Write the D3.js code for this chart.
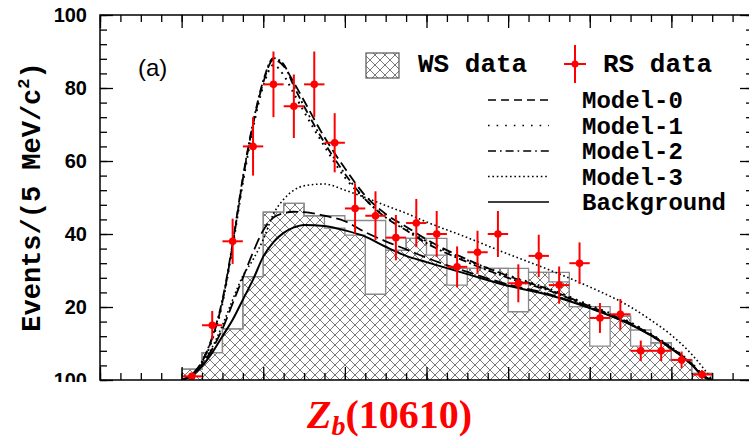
<!DOCTYPE html>
<html>
<head>
  <meta charset="utf-8">
  <title>Zb(10610) fit</title>
  <script src="https://d3js.org/d3.v7.min.js"></script>
  <style>
    body { margin: 0; background: #fff; }
    svg { display: block; }
    .tick-label { font-family: "Liberation Sans", Arial, sans-serif; font-weight: bold; font-size: 20px; }
    .mono { font-family: "Liberation Mono", "Courier New", monospace; font-weight: bold; }
  </style>
</head>
<body>
<svg id="chart" width="749" height="441"></svg>
<script>
// bins: lower edge in MeV above the axis origin, 5 MeV wide
const binLow = [20, 25, 30, 35, 40, 45, 50, 55, 60, 65, 70, 75, 80,
                85, 90, 95, 100, 105, 110, 115, 120, 125, 130, 135, 140, 145];

// RS data (points) and errors
const rsData = [1, 15, 38, 64, 81, 75, 81, 65, 47, 45, 39, 43, 40,
                31, 35, 40, 26.5, 34, 26, 32, 17, 18, 8, 8, 5.5, 1.5];
const rsErr  = [1, 3.9, 6.2, 8, 9, 8.7, 9, 8.1, 6.9, 6.7, 6.2, 6.6, 6.3,
                5.6, 5.9, 6.3, 5.2, 5.8, 5.1, 5.7, 4.1, 4.2, 2.8, 2.8, 2.3, 1.2];

// WS data: hatched histogram and the grey outline drawn over it
const wsHatch   = [3, 7.5, 14, 28.3, 46, 48.4, 45, 41.6, 39.7, 23.5, 35.5, 38.8, 34.2,
                   26, 30.6, 30.6, 18.7, 29.5, 26.9, 20.1, 9.3, 17.5, 9.3, 10.2, 5.5, 1.8];
const wsOutline = [3, 7.5, 14, 28.3, 46, 48.4, 45, 45, 43.7, 43.7, 35.5, 38.8, 38.8,
                   30.6, 30.6, 30.6, 30.6, 29.5, 29.5, 20.1, 20.1, 17.5, 13.7, 10.2, 5.5, 1.8];

// fitted curves, sampled at curveX
const curveX     = [20, 22.5, 25, 27.5, 30, 32.5, 35, 37.5, 40, 42.5, 45, 47.5, 50, 55, 60,
                    65, 70, 75, 80, 90, 100, 110, 120, 130, 135, 140, 145, 148, 150];
const model0     = [0, 1.5, 5, 11.5, 21.5, 37, 55, 70, 81.5, 87.8, 86, 81.5, 76.5, 66.5, 58,
                    50.5, 45.5, 42, 38.5, 33, 28.5, 24.8, 20.2, 15.5, 12.4, 8.8, 4.4, 1, 0];
const model1     = [0, 1.4, 4.8, 11, 21, 36.5, 54, 69, 80.5, 86.3, 83.5, 78.5, 73.5, 64, 55.5,
                    49.5, 44.8, 41.3, 38, 32.8, 28.7, 25, 20.5, 15.8, 12.6, 9, 4.6, 1.2, 0];
const model2     = [0, 1.5, 5.1, 11.8, 22, 37.5, 55.5, 70.5, 82, 88.2, 86.5, 80.5, 75, 65, 56.5,
                    49.5, 44.5, 41, 37.5, 32.3, 28, 24.5, 20, 15.4, 12.3, 8.7, 4.3, 1, 0];
const model3     = [0, 1.3, 4.5, 9, 15, 22, 28.5, 33, 38.5, 45.5, 49.5, 52, 53.2, 53.7, 52,
                    50, 47.8, 45.7, 43.3, 39, 34.5, 30.2, 25.5, 20, 16.4, 12.3, 7, 3, 0];
const dashedLow  = [0, 1.3, 4.2, 8.5, 14, 21, 28, 35, 41, 44.5, 45.7, 46.1, 46, 45, 43.5,
                    40.5, 38, 35.8, 33.5, 29.6, 26.2, 23.5, 19.8, 15.2, 12.2, 8.6, 4.2, 0.8, 0];
const background = [0, 1.2, 3.8, 7.5, 12, 16.5, 22, 27.5, 33.8, 37.8, 40.3, 41.8, 42.5, 42.2, 41,
                    39.3, 36.5, 34, 32.3, 29, 25.8, 23.3, 19.7, 15.2, 12.2, 8.6, 4.2, 0.8, 0];

const legendNames = ["Model-0", "Model-1", "Model-2", "Model-3", "Background"];
const yTicks = [0, 20, 40, 60, 80, 100];
const yTickText = ["100", "20", "40", "60", "80", "100"];

const binWidth = 5;
const svg = d3.select("#chart");

const x = d3.scaleLinear().domain([0, 160]).range([100, 753]);
const y = d3.scaleLinear().domain([0, 100]).range([380, 15]);

const defs = svg.append("defs");
defs.append("clipPath").attr("id", "plot")
  .append("rect").attr("x", 100).attr("y", 15).attr("width", 653).attr("height", 365);
const pat = defs.append("pattern")
  .attr("id", "hatch")
  .attr("patternUnits", "userSpaceOnUse")
  .attr("width", 10).attr("height", 10);
pat.append("path")
  .attr("d", "M0,0L10,10M10,0L0,10")
  .attr("stroke", "#555").attr("stroke-width", 0.8);

const plot = svg.append("g").attr("clip-path", "url(#plot)");

// step helpers
const stepPoints = vals => {
  const pts = binLow.map((b, i) => [b, vals[i]]);
  pts.push([binLow[binLow.length - 1] + binWidth, vals[vals.length - 1]]);
  return pts;
};

const hatchArea = d3.area()
  .x(d => x(d[0])).y0(y(0)).y1(d => y(d[1]))
  .curve(d3.curveStepAfter);

plot.append("path")
  .datum(stepPoints(wsHatch))
  .attr("d", hatchArea)
  .attr("fill", "url(#hatch)");

const stepLine = d3.line()
  .x(d => x(d[0])).y(d => y(d[1]))
  .curve(d3.curveStepAfter);

[wsOutline, wsHatch].forEach(vals => {
  const pts = stepPoints(vals);
  pts.unshift([binLow[0], 0]);
  pts.push([binLow[binLow.length - 1] + binWidth, 0]);
  plot.append("path")
    .datum(pts)
    .attr("d", stepLine)
    .attr("fill", "none")
    .attr("stroke", "#8a8a8a")
    .attr("stroke-width", 1.3);
});

// curves
const curveLine = d3.line()
  .x(d => x(d[0])).y(d => y(d[1]))
  .curve(d3.curveMonotoneX);

const curves = [
  { vals: model0, dash: "10,5", w: 1.8, legend: "8,5" },
  { vals: model1, dash: "1.8,5", w: 2, legend: "1.6,7" },
  { vals: model2, dash: "8,3,2,3", w: 1.8, legend: "8,4,1.6,4" },
  { vals: model3, dash: "1.6,2.6", w: 1.6, legend: "1.6,2.8" },
  { vals: background, dash: null, w: 2, legend: null }
];

plot.append("path")
  .datum(curveX.map((m, i) => [m, dashedLow[i]]))
  .attr("d", curveLine)
  .attr("fill", "none").attr("stroke", "#000")
  .attr("stroke-width", 1.8).attr("stroke-dasharray", "12,5");

curves.forEach(c => {
  plot.append("path")
    .datum(curveX.map((m, i) => [m, c.vals[i]]))
    .attr("d", curveLine)
    .attr("fill", "none").attr("stroke", "#000")
    .attr("stroke-width", c.w)
    .attr("stroke-dasharray", c.dash);
});

// RS data points
const red = "#ff0000";
const pts = plot.append("g").attr("stroke", red).attr("stroke-width", 2);
rsData.forEach((v, i) => {
  const lo = binLow[i], cx = x(lo + binWidth / 2);
  pts.append("line")
    .attr("x1", x(lo)).attr("x2", x(lo + binWidth))
    .attr("y1", y(v)).attr("y2", y(v));
  pts.append("line")
    .attr("x1", cx).attr("x2", cx)
    .attr("y1", y(Math.max(0, v - rsErr[i]))).attr("y2", y(v + rsErr[i]));
  pts.append("circle")
    .attr("cx", cx).attr("cy", y(v)).attr("r", 3.8)
    .attr("fill", red).attr("stroke", "none");
});

// frame and ticks
svg.append("rect")
  .attr("x", 100).attr("y", 15).attr("width", 653).attr("height", 365)
  .attr("fill", "none").attr("stroke", "#000").attr("stroke-width", 1.5);

const xMajor = d3.range(0, 161, 20), xMinor = d3.range(0, 161, 5);
const yMajor = d3.range(0, 101, 20), yMinor = d3.range(0, 101, 4);

const addAxis = (axis, tx, ty) => {
  const g = svg.append("g").attr("transform", `translate(${tx},${ty})`).call(axis);
  g.select(".domain").remove();
  g.selectAll("line").attr("stroke", "#000").attr("stroke-width", 1.3);
  g.selectAll("text").remove();
};
addAxis(d3.axisRight(y).tickValues(yMajor).tickSize(13), 100, 0);
addAxis(d3.axisRight(y).tickValues(yMinor).tickSize(7), 100, 0);
addAxis(d3.axisLeft(y).tickValues(yMajor).tickSize(13), 753, 0);
addAxis(d3.axisLeft(y).tickValues(yMinor).tickSize(7), 753, 0);
addAxis(d3.axisTop(x).tickValues(xMajor).tickSize(13), 0, 380);
addAxis(d3.axisTop(x).tickValues(xMinor).tickSize(7), 0, 380);
addAxis(d3.axisBottom(x).tickValues(xMajor).tickSize(13), 0, 15);
addAxis(d3.axisBottom(x).tickValues(xMinor).tickSize(7), 0, 15);

// y tick labels
svg.selectAll(".tick-label")
  .data(yTicks)
  .enter().append("text")
  .attr("class", "tick-label")
  .attr("x", 87)
  .attr("y", d => y(d) + 7)
  .attr("text-anchor", "end")
  .text((d, i) => yTickText[i]);
// bottom label is mostly hidden in the original
svg.append("rect").attr("x", 40).attr("y", 382).attr("width", 59).attr("height", 20).attr("fill", "#fff");

// y axis title
const yt = svg.append("text")
  .attr("class", "mono")
  .attr("transform", "translate(40,197) rotate(-90)")
  .attr("text-anchor", "middle")
  .attr("font-size", 27);
yt.append("tspan").text("Events/(5 MeV/c");
yt.append("tspan").attr("font-size", 17).attr("dy", -11).text("2");
yt.append("tspan").attr("dy", 11).text(")");

// (a)
svg.append("text")
  .attr("x", 138).attr("y", 76)
  .attr("font-family", "Liberation Sans, Arial, sans-serif")
  .attr("font-size", 24)
  .text("(a)");

// legend
svg.append("rect")
  .attr("x", 366).attr("y", 53).attr("width", 33).attr("height", 25)
  .attr("fill", "url(#hatch)").attr("stroke", "#555").attr("stroke-width", 1.2);
svg.append("text").attr("class", "mono").attr("font-size", 26)
  .attr("x", 418).attr("y", 72).text("WS data");

const lg = svg.append("g").attr("stroke", red).attr("stroke-width", 2);
lg.append("line").attr("x1", 564).attr("x2", 586).attr("y1", 64).attr("y2", 64);
lg.append("line").attr("x1", 575).attr("x2", 575).attr("y1", 45).attr("y2", 83);
lg.append("circle").attr("cx", 575).attr("cy", 64).attr("r", 3.5).attr("fill", red).attr("stroke", "none");
svg.append("text").attr("class", "mono").attr("font-size", 26)
  .attr("x", 603).attr("y", 72).text("RS data");

const rowY = d3.scaleLinear().domain([0, 4]).range([100, 202]);
curves.forEach((c, i) => {
  svg.append("line")
    .attr("x1", 488).attr("x2", 549)
    .attr("y1", rowY(i)).attr("y2", rowY(i))
    .attr("stroke", "#000").attr("stroke-width", 1.6)
    .attr("stroke-dasharray", c.legend);
  svg.append("text").attr("class", "mono").attr("font-size", 24)
    .attr("x", 582).attr("y", rowY(i) + 8)
    .text(legendNames[i]);
});

// x title
const xt = svg.append("text")
  .attr("x", 307).attr("y", 428)
  .attr("fill", red)
  .attr("font-family", "Liberation Serif, 'DejaVu Serif', serif")
  .attr("font-weight", "bold")
  .attr("font-size", 40);
xt.append("tspan").attr("font-style", "italic").text("Z");
xt.append("tspan").attr("font-style", "italic").attr("font-size", 28).attr("dy", 7).text("b");
xt.append("tspan").attr("dy", -7).text("(10610)");
</script>
</body>
</html>
